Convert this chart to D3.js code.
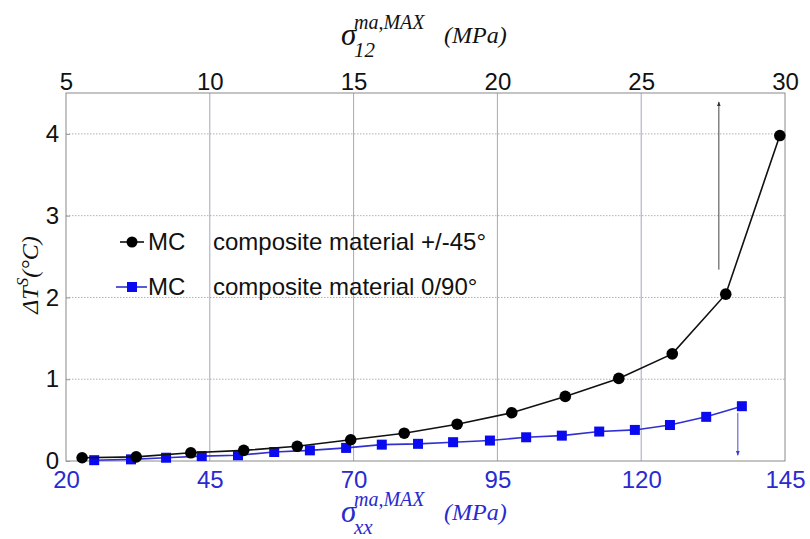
<!DOCTYPE html>
<html><head><meta charset="utf-8">
<script src="https://cdn.jsdelivr.net/npm/d3@7"></script>
<style>html,body{margin:0;padding:0;background:#fff;}svg{display:block;}</style>
</head><body>
<svg id="chart" width="810" height="539"></svg>
<script>
// ---- data ----
const bottomTicks = [20, 45, 70, 95, 120, 145];
const topTicks = [5, 10, 15, 20, 25, 30];
const yTicks = [0, 1, 2, 3, 4];
const seriesNames = ["composite material +/-45\u00b0", "composite material 0/90\u00b0"];
const blackX = [22.8, 32.2, 41.7, 50.9, 60.2, 69.5, 78.8, 88.0, 97.5, 106.8, 116.1, 125.4, 134.7, 144.1];
const blackY = [0.04, 0.05, 0.10, 0.13, 0.18, 0.26, 0.34, 0.45, 0.59, 0.79, 1.01, 1.31, 2.04, 3.98];
const blueX = [24.9, 31.3, 37.4, 43.6, 49.9, 56.2, 62.4, 68.7, 74.9, 81.2, 87.3, 93.7, 100.0, 106.2, 112.7, 118.9, 125.0, 131.3, 137.5];
const blueY = [0.01, 0.02, 0.04, 0.06, 0.07, 0.11, 0.13, 0.16, 0.20, 0.21, 0.23, 0.25, 0.29, 0.31, 0.36, 0.38, 0.44, 0.54, 0.67];
const arrowUp = {x: 133.5, y0: 2.34, y1: 4.39};
const arrowDown = {x: 136.8, y0: 0.59, y1: 0.07};

const svg = d3.select("#chart");
const L = 66, R = 785, T = 93, B = 461;
const x = d3.scaleLinear().domain([20, 145]).range([L, R]);
const xTop = d3.scaleLinear().domain([5, 30]).range([L, R]);
const y = d3.scaleLinear().domain([0, 4.5]).range([B, T]);
const BLUE_TXT = "#2a2ad0";

svg.append("rect").attr("width", 810).attr("height", 539).attr("fill", "#fff");

svg.append("defs").html(`
<marker id="ahBlack" viewBox="0 0 10 10" refX="9" refY="5" markerWidth="5" markerHeight="7" orient="auto" markerUnits="userSpaceOnUse">
  <path d="M0,1 L10,5 L0,9 Z" fill="#333"/></marker>
<marker id="ahBlue" viewBox="0 0 10 10" refX="9" refY="5" markerWidth="5" markerHeight="7" orient="auto" markerUnits="userSpaceOnUse">
  <path d="M0,1 L10,5 L0,9 Z" fill="#3a3ad8"/></marker>`);

// grid
svg.append("g").selectAll("line").data(bottomTicks.slice(1, -1)).join("line")
  .attr("x1", d => x(d)).attr("x2", d => x(d)).attr("y1", T).attr("y2", B)
  .attr("stroke", "#a6a6c4").attr("stroke-width", 1);
svg.append("g").selectAll("line").data(yTicks.slice(1)).join("line")
  .attr("x1", L).attr("x2", R).attr("y1", d => y(d)).attr("y2", d => y(d))
  .attr("stroke", "#b0b0b0").attr("stroke-width", 1).attr("stroke-dasharray", "1.5,1.5");

// frame
svg.append("rect").attr("x", L).attr("y", T).attr("width", R - L).attr("height", B - T)
  .attr("fill", "none").attr("stroke", "#8a8a8a").attr("stroke-width", 1);

// axes via d3 (labels only)
const axB = svg.append("g").attr("transform", `translate(0,${B})`)
  .call(d3.axisBottom(x).tickValues(bottomTicks).tickSize(0).tickPadding(10));
axB.select(".domain").remove();
axB.selectAll("text").attr("font-family", "Liberation Sans, Arial, sans-serif").attr("font-size", 24).attr("fill", BLUE_TXT);

const axT = svg.append("g").attr("transform", `translate(0,${T})`)
  .call(d3.axisTop(xTop).tickValues(topTicks).tickSize(0).tickPadding(3));
axT.select(".domain").remove();
axT.selectAll("text").attr("font-family", "Liberation Sans, Arial, sans-serif").attr("font-size", 24).attr("fill", "#111");

const axL = svg.append("g").attr("transform", `translate(${L},0)`)
  .call(d3.axisLeft(y).tickValues(yTicks).tickFormat(d3.format("d")).tickSize(4).tickPadding(3));
axL.select(".domain").remove();
axL.selectAll("line").attr("stroke", "#999").attr("transform", "translate(4,0)");
axL.selectAll("text").attr("font-family", "Liberation Sans, Arial, sans-serif").attr("font-size", 24).attr("fill", "#111");

// arrows
svg.append("line").attr("x1", x(arrowUp.x)).attr("x2", x(arrowUp.x))
  .attr("y1", y(arrowUp.y0)).attr("y2", y(arrowUp.y1))
  .attr("stroke", "#444").attr("stroke-width", 1).attr("marker-end", "url(#ahBlack)");
svg.append("line").attr("x1", x(arrowDown.x)).attr("x2", x(arrowDown.x))
  .attr("y1", y(arrowDown.y0)).attr("y2", y(arrowDown.y1))
  .attr("stroke", "#4a4ad8").attr("stroke-width", 1).attr("marker-end", "url(#ahBlue)");

// series
const blackData = blackX.map((v, i) => [v, blackY[i]]);
const blueData = blueX.map((v, i) => [v, blueY[i]]);
const line = d3.line().x(d => x(d[0])).y(d => y(d[1]));

svg.append("path").datum(blueData).attr("d", line).attr("fill", "none")
  .attr("stroke", "#3030d0").attr("stroke-width", 1.6);
svg.append("g").selectAll("rect").data(blueData).join("rect")
  .attr("x", d => x(d[0]) - 5).attr("y", d => y(d[1]) - 5).attr("width", 10).attr("height", 10)
  .attr("fill", "#0a0af0");

svg.append("path").datum(blackData).attr("d", line).attr("fill", "none")
  .attr("stroke", "#111").attr("stroke-width", 1.6);
svg.append("g").selectAll("circle").data(blackData).join("circle")
  .attr("cx", d => x(d[0])).attr("cy", d => y(d[1])).attr("r", 5.8).attr("fill", "#000");

// legend
const lg = svg.append("g").attr("font-family", "Liberation Sans, Arial, sans-serif").attr("font-size", 24).attr("fill", "#111");
const rows = [{yy: 242, color: "#111", shape: "circle", name: seriesNames[0]},
              {yy: 287, color: "#3030d0", shape: "square", name: seriesNames[1]}];
rows.forEach(r => {
  lg.append("line").attr("x1", r.shape === "circle" ? 120 : 116).attr("x2", r.shape === "circle" ? 144 : 147)
    .attr("y1", r.yy).attr("y2", r.yy).attr("stroke", r.color).attr("stroke-width", 1.6);
  if (r.shape === "circle") lg.append("circle").attr("cx", 132).attr("cy", r.yy).attr("r", 5.5).attr("fill", "#000");
  else lg.append("rect").attr("x", 127).attr("y", r.yy - 5).attr("width", 10).attr("height", 10).attr("fill", "#0a0af0");
  lg.append("text").attr("x", 148).attr("y", r.yy).attr("dy", "0.35em").text("MC");
  lg.append("text").attr("x", 213).attr("y", r.yy).attr("dy", "0.35em").text(r.name);
});

// axis titles
function sigmaTitle(cx, base, sub, color) {
  const g = svg.append("g").attr("font-family", "Liberation Serif, Times New Roman, serif")
    .attr("font-style", "italic").attr("fill", color);
  g.append("text").attr("x", cx).attr("y", base).attr("font-size", 31).text("\u03c3");
  g.append("text").attr("x", cx + 13).attr("y", base - 16).attr("font-size", 20).text("ma,MAX");
  g.append("text").attr("x", cx + 13).attr("y", base + 12).attr("font-size", 21).text(sub);
  g.append("text").attr("x", cx + 103).attr("y", base - 2).attr("font-size", 24).text("(MPa)");
}
sigmaTitle(341, 45, "12", "#111");
sigmaTitle(341, 522, "xx", BLUE_TXT);

// y title
const yt = svg.append("text").attr("transform", "translate(38,275) rotate(-90)")
  .attr("text-anchor", "middle").attr("font-family", "Liberation Serif, Times New Roman, serif")
  .attr("font-style", "italic").attr("fill", "#111").attr("font-size", 24);
yt.append("tspan").text("\u0394T");
yt.append("tspan").attr("font-size", 17).attr("dy", -10).text("S");
yt.append("tspan").attr("dy", 10).text("(\u00b0C)");
</script>
</body></html>
